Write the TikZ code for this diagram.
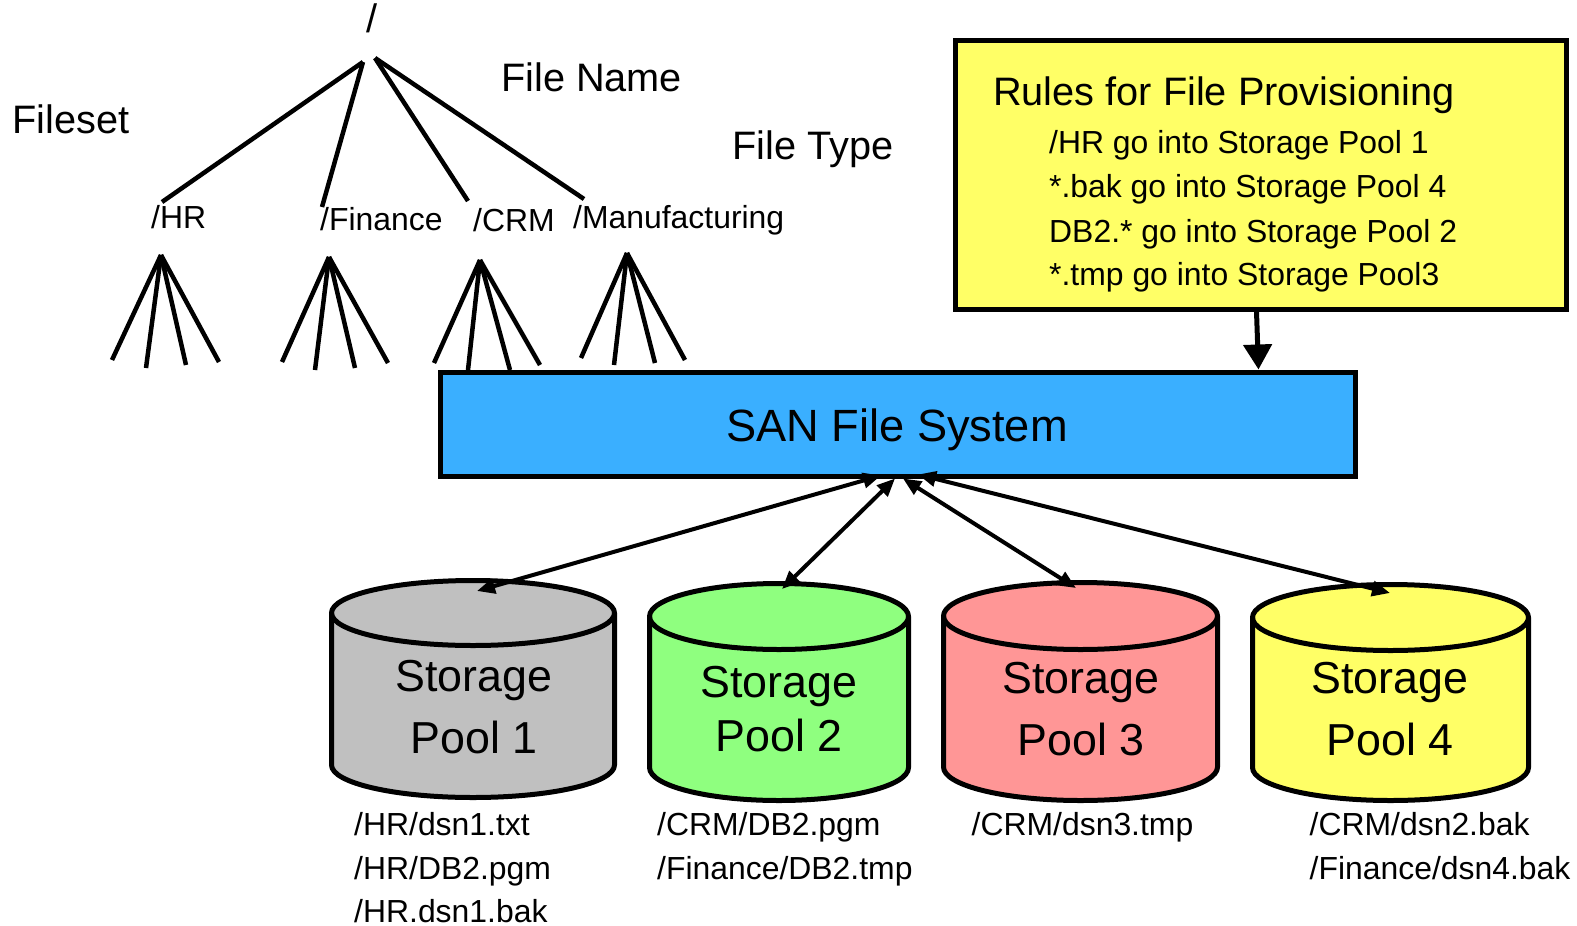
\documentclass[tikz,border=0pt]{standalone}
\usepackage{fontspec}
\setmainfont{Liberation Sans}
\usetikzlibrary{arrows.meta}

\definecolor{sanblue}{RGB}{58,175,255}
\definecolor{ruleyellow}{RGB}{255,255,102}
\definecolor{poolgray}{RGB}{192,192,192}
\definecolor{poolgreen}{RGB}{143,255,127}
\definecolor{poolred}{RGB}{255,150,150}
\definecolor{poolyellow}{RGB}{255,255,102}

\tikzset{
  tline/.style={line width=4.5pt},
  box/.style={draw, line width=5pt, inner sep=0pt},
  cyl/.style={draw, line width=5pt, line join=round},
  link/.style={line width=4pt, {Triangle[length=18pt,width=15pt]}-{Triangle[length=18pt,width=15pt]}},
  feed/.style={line width=5pt, -{Triangle[length=25pt,width=28pt]}},
  bigtxt/.style={font=\fontsize{39.7pt}{46pt}\selectfont, inner sep=0pt},
  midtxt/.style={font=\fontsize{31.9pt}{38pt}\selectfont, inner sep=0pt},
  pooltxt/.style={font=\fontsize{44.8pt}{52pt}\selectfont, inner sep=0pt, anchor=base},
  santxt/.style={font=\fontsize{45.2pt}{54pt}\selectfont, inner sep=0pt, anchor=base},
}

% storage cylinder: centre x, x radius, top centre y, bottom centre y, y radius, fill
\newcommand\poolcyl[6]{%
  \path[cyl, fill=#6] (#1-#2,#3) -- (#1-#2,#4)
    arc[start angle=180, end angle=0, x radius=#2, y radius=#5]
    -- (#1+#2,#3)
    arc[start angle=0, end angle=-180, x radius=#2, y radius=#5] -- cycle;
  \draw[line width=5pt] (#1-#2,#3)
    arc[start angle=180, end angle=0, x radius=#2, y radius=#5];
}

\begin{document}
\begin{tikzpicture}[x=1pt, y=-1pt]
\useasboundingbox (0,0) rectangle (1577,926);

% ---------- directory tree ----------
\node[bigtxt, anchor=base] (root) at (372,32) {/};
\node[bigtxt, anchor=base west] (fileset) at (12,133) {Fileset};
\node[bigtxt, anchor=base west] (filename) at (501,91) {File Name};
\node[bigtxt, anchor=base west] (filetype) at (732,159) {File Type};

\node[midtxt, anchor=base west] (hr) at (151,228) {/HR};
\node[midtxt, anchor=base west] (fin) at (320,230) {/Finance};
\node[midtxt, anchor=base west] (crm) at (473,231) {/CRM};
\node[midtxt, anchor=base west] (mfg) at (573,228) {/Manufacturing};

\coordinate (rootL) at (363,62);
\coordinate (rootR) at (375,58);
\coordinate (hrT) at (162,202);
\coordinate (finT) at (322,207);
\coordinate (crmT) at (468,201);
\coordinate (mfgT) at (584,199);
\draw[tline] (rootL) -- (hrT);
\draw[tline] (rootL) -- (finT);
\draw[tline] (rootR) -- (crmT);
\draw[tline] (rootR) -- (mfgT);

% fans of files under each fileset
\foreach \n/\x/\y in {hr-apex/161/255, fin-apex/329/257, crm-apex/480/260, mfg-apex/627/253,
  hr-1/112/360, hr-2/146/368, hr-3/186/365, hr-4/219/362,
  fin-1/282/362, fin-2/315/370, fin-3/355/368, fin-4/388/363,
  crm-1/434/363, crm-2/468/370, crm-3/510/370, crm-4/540/365,
  mfg-1/581/358, mfg-2/614/365, mfg-3/655/363, mfg-4/685/360}
  \coordinate (\n) at (\x,\y);
\foreach \f in {hr,fin,crm,mfg}
  \foreach \i in {1,...,4}
    \draw[tline] (\f-apex) -- (\f-\i);

% ---------- rules box ----------
\node[box, fill=ruleyellow, minimum width=611pt, minimum height=269pt] (rules) at (1260.5,174.5) {};
\node[bigtxt, anchor=base west] (rtitle) at (993,105) {Rules for File Provisioning};
\node[midtxt, anchor=base west] (r1) at (1049,153) {/HR go into Storage Pool 1};
\node[midtxt, anchor=base west] (r2) at (1049,197) {*.bak go into Storage Pool 4};
\node[midtxt, anchor=base west] (r3) at (1049,242) {DB2.* go into Storage Pool 2};
\node[midtxt, anchor=base west] (r4) at (1049,285) {*.tmp go into Storage Pool3};

% ---------- SAN File System ----------
\node[box, fill=sanblue, minimum width=915pt, minimum height=104pt] (san) at (897.5,424) {};
\node[santxt] (santitle) at (897,441) {SAN File System};

\draw[feed] ([xshift=-4pt]rules.south) -- ([xshift=-2pt]rules.south |- san.north);

% ---------- storage pools ----------
\poolcyl{473}{141.5}{613}{765}{32.5}{poolgray}
\poolcyl{779}{129.5}{616.5}{767.5}{33}{poolgreen}
\poolcyl{1080.5}{137}{616}{767}{33.5}{poolred}
\poolcyl{1390.5}{138}{617.5}{767.5}{33}{poolyellow}

\node[pooltxt] (p1a) at (474,691) {Storage};
\node[pooltxt] (p1b) at (474,753) {Pool 1};
\node[pooltxt] (p2a) at (779,697) {Storage};
\node[pooltxt] (p2b) at (779,751) {Pool 2};
\node[pooltxt] (p3a) at (1081,693) {Storage};
\node[pooltxt] (p3b) at (1081,755) {Pool 3};
\node[pooltxt] (p4a) at (1390,693) {Storage};
\node[pooltxt] (p4b) at (1390,755) {Pool 4};

\coordinate (pool1) at (477,591);
\coordinate (pool2) at (782,589);
\coordinate (pool3) at (1076,588);
\coordinate (pool4) at (1390,593);

\draw[link] ([shift={(-16.5,-3)}]san.south) -- (pool1);
\draw[link] ([shift={(-2.5,0)}]san.south) -- (pool2);
\draw[link] ([shift={(5.5,0)}]san.south) -- (pool3);
\draw[link] ([shift={(20.5,-4)}]san.south) -- (pool4);

% ---------- files held in each pool ----------
\node[midtxt, anchor=base west] (f11) at (354,835) {/HR/dsn1.txt};
\node[midtxt, anchor=base west] (f12) at (354,879) {/HR/DB2.pgm};
\node[midtxt, anchor=base west] (f13) at (354,922) {/HR.dsn1.bak};
\node[midtxt, anchor=base west] (f21) at (657,835) {/CRM/DB2.pgm};
\node[midtxt, anchor=base west] (f22) at (657,879) {/Finance/DB2.tmp};
\node[midtxt, anchor=base west] (f31) at (971.5,835) {/CRM/dsn3.tmp};
\node[midtxt, anchor=base west] (f41) at (1309.5,835) {/CRM/dsn2.bak};
\node[midtxt, anchor=base west] (f42) at (1309.5,879) {/Finance/dsn4.bak};
\end{tikzpicture}
\end{document}
